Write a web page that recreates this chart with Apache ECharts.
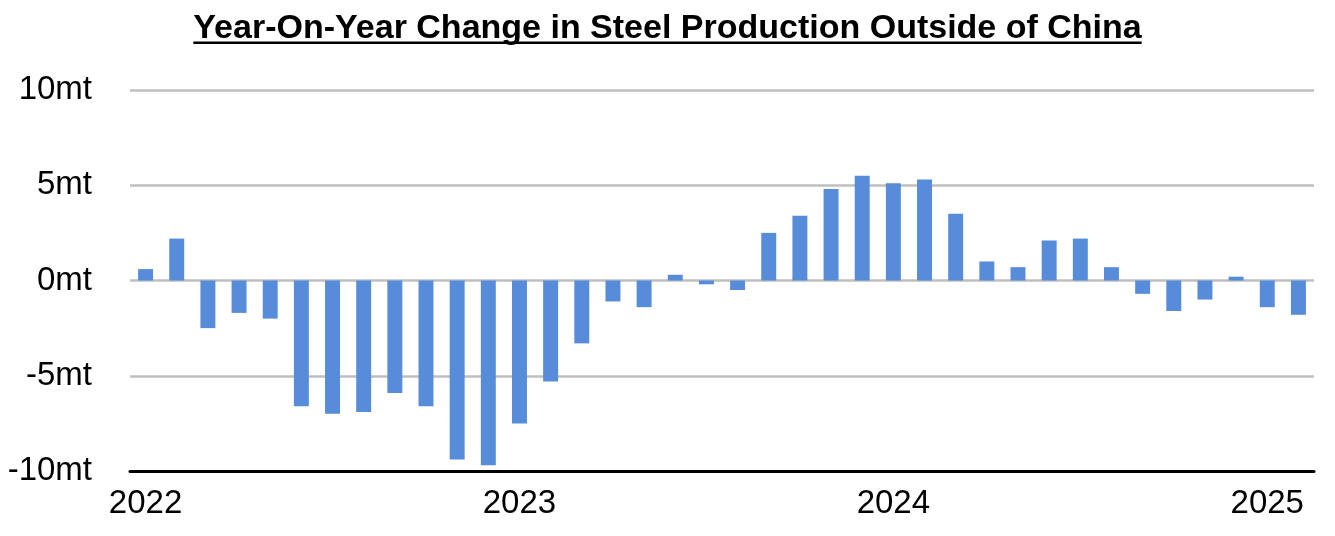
<!DOCTYPE html>
<html>
<head>
<meta charset="utf-8">
<script src="https://cdn.jsdelivr.net/npm/echarts@6/dist/echarts.min.js"></script>
<style>
  html, body { margin: 0; padding: 0; background: #fff; }
  #chart { width: 1335px; height: 536px; }
</style>
</head>
<body>
<div id="chart"></div>
<script>
// Months Jan 2022 - Feb 2025
const months = [
  '2022-01','2022-02','2022-03','2022-04','2022-05','2022-06','2022-07','2022-08','2022-09','2022-10','2022-11','2022-12',
  '2023-01','2023-02','2023-03','2023-04','2023-05','2023-06','2023-07','2023-08','2023-09','2023-10','2023-11','2023-12',
  '2024-01','2024-02','2024-03','2024-04','2024-05','2024-06','2024-07','2024-08','2024-09','2024-10','2024-11','2024-12',
  '2025-01','2025-02'
];
// Year-on-year change, million tonnes
const yoyChange = [
  0.6, 2.2, -2.5, -1.7, -2.0, -6.6, -7.0, -6.9, -5.9, -6.6, -9.4, -9.7,
  -7.5, -5.3, -3.3, -1.1, -1.4, 0.3, -0.2, -0.5, 2.5, 3.4, 4.8, 5.5,
  5.1, 5.3, 3.5, 1.0, 0.7, 2.1, 2.2, 0.7, -0.7, -1.6, -1.0, 0.2,
  -1.4, -1.8
];
const yTicks = { min: -10, max: 10, interval: 5, unit: 'mt' };
const titleText = 'Year-On-Year Change in Steel Production Outside of China';

const W = 1335;
const titleFont = 'bold 34px "Liberation Sans"';
const ctx = document.createElement('canvas').getContext('2d');
ctx.font = titleFont;
const titleW = ctx.measureText(titleText).width;

const chart = echarts.init(document.getElementById('chart'), null, { renderer: 'canvas' });
chart.setOption({
  backgroundColor: '#ffffff',
  animation: false,
  title: {
    text: titleText,
    left: 'center',
    top: 7,
    textStyle: {
      fontFamily: 'Liberation Sans',
      fontWeight: 'bold',
      fontSize: 34,
      color: '#000'
    }
  },
  graphic: [{
    type: 'rect',
    shape: { x: (W - titleW) / 2, y: 41.5, width: titleW, height: 2.5 },
    style: { fill: '#000' },
    silent: true
  }],
  grid: { left: 130, right: 21, top: 90, bottom: 65, containLabel: false },
  xAxis: {
    type: 'category',
    data: months,
    axisLine: { onZero: false, lineStyle: { color: '#000', width: 3 } },
    axisTick: { show: false },
    axisLabel: {
      interval: function (idx) { return idx % 12 === 0; },
      formatter: function (v) { return v.slice(0, 4); },
      fontFamily: 'Liberation Sans',
      fontSize: 33,
      color: '#000',
      margin: 16
    }
  },
  yAxis: {
    type: 'value',
    min: yTicks.min,
    max: yTicks.max,
    interval: yTicks.interval,
    axisLine: { show: false },
    axisTick: { show: false },
    splitLine: { lineStyle: { color: '#bfbfbf', width: 2.5 } },
    axisLabel: {
      formatter: '{value}' + yTicks.unit,
      fontFamily: 'Liberation Sans',
      fontSize: 33,
      color: '#000',
      margin: 38
    }
  },
  series: [{
    type: 'bar',
    data: yoyChange,
    barWidth: '48%',
    itemStyle: { color: '#568CD9' }
  }]
});
</script>
</body>
</html>
